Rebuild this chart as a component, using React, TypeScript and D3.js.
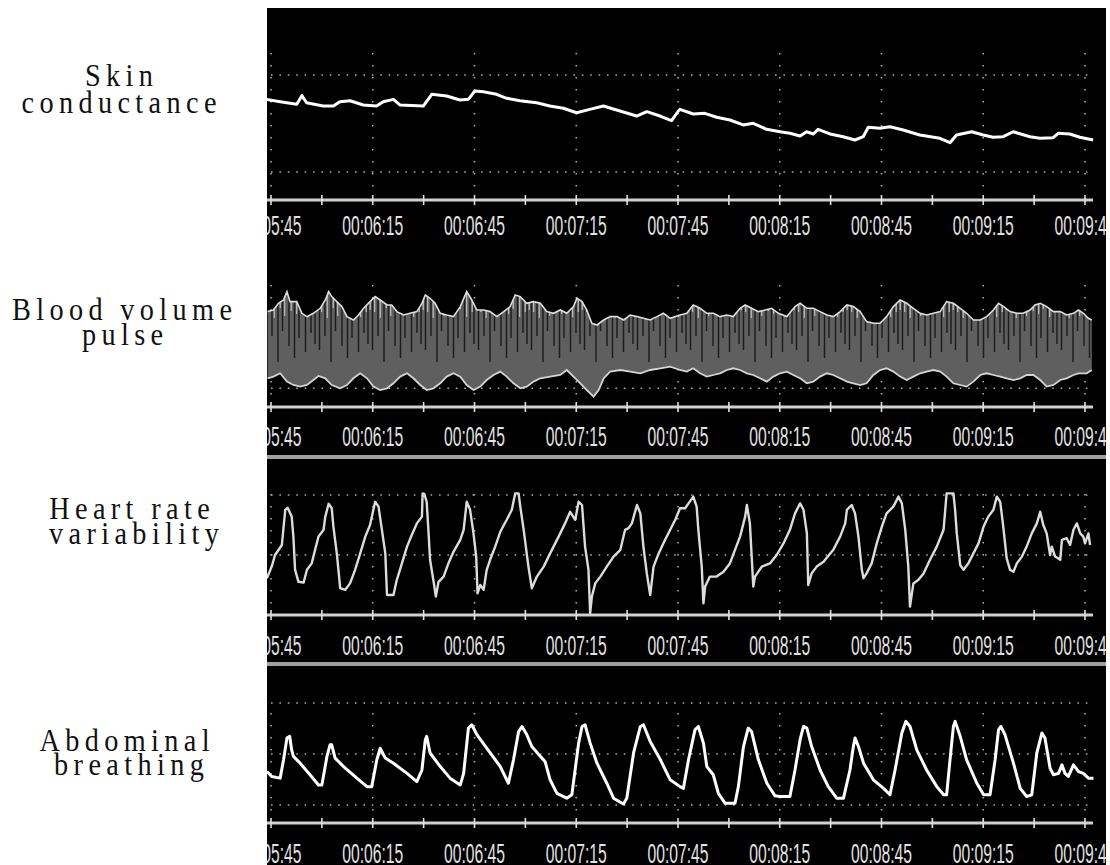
import React, { useRef, useEffect } from "react";
import * as d3 from "d3";

type Pt = [number, number];

// time axis (seconds since start of session)
const majorTicks = [345, 375, 405, 435, 465, 495, 525, 555, 585];
const minorTicks = [360, 390, 420, 450, 480, 510, 540, 570];
const tickLabels = ["00:05:45", "00:06:15", "00:06:45", "00:07:15", "00:07:45", "00:08:15", "00:08:45", "00:09:15", "00:09:45"];

const panelTitles = [
  ["Skin", "conductance"],
  ["Blood volume", "pulse"],
  ["Heart rate", "variability"],
  ["Abdominal", "breathing"],
];

// skin conductance [t, level]
const skinConductance: Pt[] = [
  [343.7, 7.49], [347.7, 7.25], [352.6, 6.98], [354.1, 7.87], [355.5, 7.14], [360.4, 6.8], [363.4, 6.8],
  [365.3, 7.25], [368.3, 7.35], [372.2, 6.91], [376.1, 6.8], [378.1, 7.25], [381.1, 7.49], [383.0, 6.91],
  [389.9, 6.8], [392.4, 8.01], [396.8, 7.84], [400.7, 7.42], [403.2, 7.49], [405.1, 8.35], [407.6, 8.28],
  [411.5, 8.01], [414.5, 7.6], [418.4, 7.35], [423.3, 7.14], [427.2, 6.8], [431.2, 6.57], [435.1, 6.11],
  [439.0, 6.46], [443.0, 6.8], [446.9, 6.39], [452.8, 5.77], [455.8, 6.22], [459.7, 5.77], [463.1, 5.29],
  [465.1, 6.29], [465.6, 6.46], [469.5, 5.98], [472.9, 6.05], [476.4, 5.64], [480.3, 5.36], [484.2, 4.85],
  [487.2, 5.02], [491.1, 4.4], [495.1, 4.15], [498.0, 3.99], [501.0, 3.71], [502.9, 4.15], [504.9, 3.92],
  [506.3, 4.4], [509.8, 3.92], [513.7, 3.64], [517.2, 3.3], [519.6, 3.64], [521.1, 4.61], [524.5, 4.51],
  [527.5, 4.67], [531.4, 4.33], [536.3, 3.81], [542.2, 3.47], [545.2, 3.02], [547.1, 3.81], [551.6, 4.15],
  [555.0, 3.81], [557.9, 3.58], [560.9, 3.64], [563.8, 4.15], [568.8, 3.64], [571.7, 3.47], [575.6, 3.54],
  [577.1, 3.99], [580.5, 3.92], [583.5, 3.58], [587.4, 3.3],
];

// blood volume pulse envelope [t, amplitude]
const bvpUpper: Pt[] = [
  [344.0, 91.7], [345.7, 93.3], [347.2, 100], [348.7, 103.3], [349.7, 111.7], [350.6, 101.7], [352.6, 101.7],
  [354.1, 90], [355.6, 86.7], [357.5, 90], [359.5, 95], [361.0, 103.3], [362.0, 111.7], [362.9, 106.7],
  [364.4, 101.7], [365.9, 96.7], [367.4, 86.7], [369.3, 83.3], [370.8, 88.3], [372.3, 95], [374.2, 101.7],
  [375.7, 106.7], [377.2, 103.3], [379.2, 98.3], [380.6, 98.3], [382.1, 91.7], [384.1, 88.3], [386.0, 90],
  [388.0, 91.7], [389.5, 100], [390.5, 108.3], [391.9, 105], [393.4, 100], [394.9, 90], [396.8, 88.3],
  [398.8, 86.7], [400.8, 96.7], [402.7, 111.7], [404.2, 103.3], [405.7, 93.3], [407.7, 93.3], [409.6, 91.7],
  [411.6, 86.7], [413.6, 91.7], [415.5, 96.7], [417.0, 108.3], [418.5, 106.7], [420.4, 100], [422.4, 101.7],
  [424.4, 100], [426.3, 91.7], [428.3, 90], [430.3, 93.3], [432.2, 90], [434.2, 96.7], [435.2, 105],
  [436.7, 101.7], [438.1, 93.3], [439.6, 80], [441.1, 78.3], [443.1, 83.3], [445.0, 86.7], [447.0, 86.7],
  [449.0, 83.3], [450.9, 88.3], [452.9, 86.7], [454.8, 85], [456.8, 83.3], [458.8, 86.7], [460.7, 90],
  [462.7, 85], [465.6, 88.3], [467.6, 90], [469.5, 98.3], [471.5, 95], [473.5, 90], [475.4, 90],
  [477.4, 86.7], [479.4, 88.3], [481.3, 86.7], [483.3, 95], [484.8, 98.3], [486.7, 95], [488.7, 91.7],
  [490.7, 93.3], [492.6, 95], [494.6, 90], [497.1, 86.7], [499.5, 96.7], [501.0, 100], [503.0, 95],
  [504.9, 95], [506.9, 91.7], [508.9, 88.3], [510.8, 86.7], [512.8, 91.7], [514.8, 98.3], [516.7, 96.7],
  [518.7, 91.7], [520.6, 81.7], [522.6, 80], [524.6, 80], [526.5, 86.7], [528.5, 96.7], [530.5, 103.3],
  [532.4, 100], [534.4, 95], [536.4, 90], [538.3, 88.3], [540.3, 90], [542.3, 91.7], [544.2, 101.7],
  [546.2, 100], [548.2, 95], [550.1, 90], [552.1, 83.3], [554.1, 83.3], [556.0, 86.7], [558.0, 93.3],
  [559.5, 100], [561.0, 96.7], [562.9, 91.7], [564.9, 90], [566.8, 90], [568.8, 93.3], [570.3, 98.3],
  [571.8, 100], [573.7, 96.7], [575.7, 91.7], [577.7, 91.7], [579.6, 88.3], [581.6, 90], [583.1, 93.3],
  [584.5, 90], [586.0, 85], [587.0, 83.3],
];
const bvpLower: Pt[] = [
  [344.0, 25], [345.7, 26.7], [347.7, 30], [349.7, 21.7], [351.6, 18.3], [353.6, 16.7], [355.6, 18.3],
  [357.5, 23.3], [359.0, 27.3], [361.0, 25], [362.9, 18.3], [365.4, 15], [367.4, 18.3], [369.3, 25],
  [371.3, 30], [373.3, 25], [375.2, 16.7], [377.2, 13.3], [379.2, 15], [381.1, 20], [383.1, 26.7],
  [385.1, 30], [387.0, 25], [389.0, 18.3], [390.9, 13.3], [392.9, 15], [394.9, 20], [396.8, 26.7],
  [398.8, 30], [400.8, 26.7], [402.7, 18.3], [404.7, 13.3], [406.7, 16.7], [408.6, 23.3], [410.6, 28.3],
  [412.6, 31.7], [414.5, 26.7], [416.5, 20], [418.5, 15], [420.4, 16.7], [422.4, 21.7], [424.4, 25],
  [427.3, 26.7], [430.3, 28.3], [432.2, 33.3], [434.2, 26.7], [436.2, 20], [438.1, 13.3], [440.1, 6.7],
  [441.6, 13.3], [443.1, 25], [445.0, 31.7], [448.0, 33.3], [450.9, 31.7], [453.9, 30], [456.8, 33.3],
  [459.8, 35], [462.7, 36.7], [465.6, 33.3], [467.6, 31.7], [469.5, 35], [471.5, 30], [473.5, 26.7],
  [475.4, 28.3], [477.4, 30], [479.4, 33.3], [481.3, 35], [483.3, 33.3], [485.3, 30], [487.2, 28.3],
  [489.2, 25], [491.2, 21.7], [493.1, 26.7], [495.1, 30], [497.1, 31.7], [499.0, 28.3], [501.0, 25],
  [503.0, 20], [504.9, 21.7], [506.9, 26.7], [508.9, 30], [510.8, 28.3], [512.8, 25], [514.8, 21.7],
  [516.7, 20], [518.7, 18.3], [520.6, 20], [522.6, 28.3], [524.6, 33.3], [526.5, 35], [528.5, 31.7],
  [530.5, 26.7], [532.4, 23.3], [534.4, 26.7], [536.4, 30], [538.3, 31.7], [540.3, 33.3], [542.3, 31.7],
  [544.2, 26.7], [546.2, 20], [548.2, 18.3], [550.1, 16.7], [552.1, 21.7], [554.1, 28.3], [556.0, 30],
  [558.0, 28.3], [560.0, 26.7], [561.9, 25], [563.9, 23.3], [565.9, 25], [567.8, 28.3], [569.8, 28.3],
  [571.8, 23.3], [573.7, 16.7], [575.7, 18.3], [577.7, 23.3], [579.6, 25], [581.6, 28.3], [583.1, 30],
  [585.5, 30], [587.0, 33.3],
];

// heart rate [t, bpm]
const heartRate: Pt[] = [
  [343.8, 69.2], [345.2, 72.1], [346.2, 75.0], [348.2, 77.5], [349.2, 86.3], [349.9, 86.8], [351.1, 84.6],
  [351.6, 79.6], [352.1, 71.3], [353.1, 68.3], [354.6, 68.1], [355.6, 71.3], [357.0, 72.9], [358.0, 76.3],
  [359.0, 79.6], [360.5, 81.3], [361.0, 84.6], [362.0, 87.8], [362.9, 86.7], [363.4, 82.1], [364.4, 75.4],
  [365.4, 66.7], [366.9, 66.3], [368.3, 67.9], [369.8, 71.3], [371.3, 75.4], [372.8, 79.6], [374.2, 82.5],
  [375.7, 88.3], [376.7, 87.1], [377.7, 81.3], [378.7, 75.4], [379.2, 65.0], [381.1, 65.0], [382.1, 68.8],
  [383.6, 72.9], [385.1, 77.1], [386.5, 80.0], [388.0, 82.9], [389.5, 84.6], [389.7, 90.4], [390.2, 90.3],
  [390.9, 88.3], [391.4, 81.3], [391.9, 73.8], [393.1, 67.5], [393.6, 64.6], [394.4, 68.3], [395.9, 69.6],
  [397.3, 72.9], [398.8, 75.8], [400.8, 78.8], [401.8, 81.3], [402.7, 88.3], [403.7, 86.3], [404.7, 80.4],
  [405.5, 74.6], [405.9, 65.4], [406.7, 67.5], [407.7, 66.3], [408.6, 71.3], [409.6, 73.8], [411.1, 77.1],
  [412.6, 80.8], [414.5, 83.8], [416.0, 86.3], [417.0, 90.4], [418.0, 90.4], [418.5, 87.1], [419.5, 81.3],
  [420.9, 72.1], [421.9, 66.7], [423.4, 69.6], [425.4, 72.1], [427.3, 75.4], [429.8, 79.6], [431.7, 82.9],
  [433.2, 85.8], [434.7, 83.8], [435.7, 88.3], [436.7, 87.5], [437.6, 77.1], [438.6, 71.3], [439.1, 60.4],
  [439.6, 64.6], [440.6, 67.9], [442.1, 69.6], [444.0, 72.1], [446.0, 74.6], [448.0, 76.3], [449.4, 81.3],
  [450.4, 81.7], [451.4, 82.9], [452.9, 87.5], [453.9, 85.4], [454.8, 77.1], [455.8, 70.4], [456.8, 65.0],
  [457.8, 72.1], [459.3, 75.4], [461.2, 78.8], [462.7, 81.3], [464.2, 83.8], [465.6, 86.7], [467.1, 86.7],
  [468.1, 87.9], [469.5, 89.6], [470.5, 87.1], [471.0, 81.3], [472.0, 72.1], [472.5, 62.9], [473.0, 67.1],
  [474.4, 69.6], [476.4, 69.6], [478.4, 70.8], [480.3, 72.9], [481.8, 76.3], [483.3, 79.6], [484.8, 84.6],
  [485.3, 87.5], [486.2, 82.9], [487.2, 67.1], [487.7, 69.6], [489.7, 72.1], [492.1, 72.9], [494.1, 75.0],
  [496.1, 77.9], [498.0, 81.3], [499.5, 85.4], [501.0, 87.9], [502.0, 86.3], [503.0, 80.4], [503.4, 67.5],
  [504.4, 70.4], [505.9, 72.1], [507.9, 73.3], [510.8, 76.3], [512.8, 79.6], [514.3, 82.9], [514.8, 86.3],
  [516.2, 87.5], [517.2, 85.4], [518.2, 79.6], [519.2, 71.3], [519.7, 69.2], [520.6, 70.4], [522.1, 72.9],
  [523.6, 77.9], [525.1, 82.1], [526.5, 85.4], [528.5, 87.1], [530.0, 89.6], [531.0, 87.9], [532.0, 81.3],
  [532.9, 72.1], [533.4, 62.1], [534.4, 67.9], [535.9, 68.8], [537.4, 70.4], [539.3, 73.8], [541.3, 77.1],
  [543.3, 81.3], [544.2, 90.4], [546.2, 90.4], [546.7, 86.3], [547.2, 80.4], [548.2, 72.5], [549.2, 71.3],
  [550.6, 72.9], [552.1, 75.4], [553.6, 77.9], [555.1, 82.1], [556.5, 84.6], [558.0, 86.3], [559.0, 89.6],
  [560.0, 88.3], [560.9, 82.1], [561.9, 74.2], [562.9, 71.3], [563.9, 70.8], [564.9, 72.9], [566.4, 74.6],
  [567.8, 77.1], [569.3, 80.4], [570.8, 82.9], [571.8, 85.8], [572.7, 82.5], [573.7, 80.4], [574.7, 75.0],
  [575.2, 77.1], [576.2, 74.6], [577.7, 73.8], [578.2, 78.8], [579.6, 79.2], [580.6, 77.5], [581.6, 81.3],
  [582.6, 82.9], [583.6, 80.4], [584.5, 79.6], [585.0, 77.9], [586.0, 80.4], [586.5, 77.5],
];

// abdominal breathing [t, expansion]
const breathing: Pt[] = [
  [343.8, 9.8], [345.2, 8.4], [347.7, 7.9], [348.7, 13.3], [349.7, 19.7], [350.5, 20.2], [351.1, 16.2],
  [351.6, 14.3], [353.6, 12.3], [356.5, 8.9], [359.0, 5.9], [360.0, 5.9], [361.5, 14.3], [362.4, 17.7],
  [362.9, 17.7], [363.9, 13.8], [366.4, 11.3], [370.3, 7.9], [373.3, 5.4], [374.7, 5.4], [376.2, 13.3],
  [377.2, 16.7], [378.7, 13.8], [381.1, 12.3], [385.1, 9.3], [388.0, 6.9], [389.5, 10.3], [390.5, 19.2],
  [390.9, 20.2], [391.9, 15.3], [394.9, 11.3], [397.8, 7.9], [400.8, 5.9], [401.8, 9.3], [403.2, 22.6],
  [404.2, 23.6], [405.7, 20.7], [408.6, 16.7], [412.6, 11.3], [415.0, 6.4], [416.5, 13.3], [418.0, 21.6],
  [419.0, 23.1], [420.4, 20.7], [421.9, 17.2], [424.4, 14.3], [425.8, 12.8], [427.3, 7.4], [429.3, 3.4],
  [432.2, 2.0], [433.7, 3.0], [435.7, 18.2], [436.7, 23.1], [437.6, 23.6], [439.1, 18.2], [441.1, 12.3],
  [444.0, 6.4], [446.0, 2.0], [448.9, 0.3], [449.9, 2.0], [451.9, 15.3], [453.9, 23.1], [454.8, 23.6],
  [456.8, 18.7], [459.8, 13.3], [462.7, 7.4], [465.6, 5.4], [466.6, 4.9], [468.1, 13.3], [470.0, 22.1],
  [471.0, 23.1], [472.5, 18.2], [473.5, 11.3], [475.4, 8.9], [476.9, 3.4], [478.9, 0.5], [481.8, 0.5],
  [482.8, 5.4], [484.3, 17.2], [485.7, 22.6], [486.7, 21.6], [488.7, 13.3], [491.2, 6.4], [493.6, 2.7],
  [495.1, 2.5], [498.0, 2.5], [499.5, 10.3], [501.0, 19.2], [502.0, 23.1], [503.0, 22.6], [504.4, 17.2],
  [506.9, 10.3], [509.3, 5.4], [511.8, 2.0], [513.8, 2.0], [515.7, 10.3], [516.7, 17.2], [517.2, 19.7],
  [518.2, 17.2], [519.7, 12.3], [522.6, 7.4], [525.6, 4.9], [527.5, 3.0], [529.0, 10.3], [531.0, 21.2],
  [532.2, 24.6], [533.4, 23.1], [535.4, 16.2], [538.3, 10.3], [541.3, 5.4], [543.3, 3.0], [544.2, 3.0],
  [545.2, 13.3], [546.2, 23.1], [546.7, 24.6], [548.2, 20.2], [550.1, 13.3], [553.1, 6.4], [555.1, 3.0],
  [557.0, 3.0], [558.5, 13.3], [559.5, 22.1], [560.2, 23.1], [561.4, 20.7], [563.9, 12.3], [565.9, 4.9],
  [567.8, 2.5], [569.3, 3.0], [570.8, 15.3], [572.3, 21.2], [573.2, 19.7], [574.7, 10.8], [575.7, 8.9],
  [577.2, 9.3], [578.2, 11.8], [579.1, 9.3], [580.1, 8.4], [581.6, 11.8], [583.1, 9.8], [584.5, 9.3],
  [586.0, 7.9], [587.5, 7.9],
];

interface Panel {
  domain: [number, number];
  range: [number, number];
  grid: number[];
  gridTop: number;
  axisY: number;
  labelY: number;
  separator?: number;
  title: { cx: number; y: number }[];
}

const panels: Panel[] = [
  { domain: [0, 10], range: [172, 75], grid: [0, 10], gridTop: 53, axisY: 200, labelY: 235, title: [{ cx: 119, y: 86 }, { cx: 119, y: 113 }] },
  { domain: [0, 100], range: [403.3, 303.3], grid: [15], gridTop: 285, axisY: 407, labelY: 446, separator: 457, title: [{ cx: 122, y: 320 }, { cx: 122.5, y: 345 }] },
  { domain: [60, 90], range: [615, 495], grid: [90, 75], gridTop: 494, axisY: 615, labelY: 655, separator: 664, title: [{ cx: 129.5, y: 519 }, { cx: 134, y: 544 }] },
  { domain: [0, 30], range: [805, 703], grid: [0, 15, 30], gridTop: 713, axisY: 823, labelY: 863, title: [{ cx: 124.5, y: 751 }, { cx: 129, y: 775 }] },
];

export default function App() {
  const ref = useRef<SVGSVGElement>(null);

  useEffect(() => {
    if (!ref.current) return;
    const svg = d3.select(ref.current);
    svg.selectAll("*").remove();

    const W = 1110, H = 865;
    const left = 267, top = 8, right = 1106;
    const x = d3.scaleLinear().domain([345, 585]).range([271, 1085]);

    const defs = svg.append("defs");
    defs.append("clipPath").attr("id", "screen")
      .append("rect").attr("x", left).attr("y", top).attr("width", right - left).attr("height", H - top);
    defs.append("filter").attr("id", "soft")
      .append("feGaussianBlur").attr("stdDeviation", 0.45);

    svg.append("rect").attr("width", W).attr("height", H).attr("fill", "#fff");

    // panel titles
    panels.forEach((p, i) => {
      panelTitles[i].forEach((txt, j) => {
        svg.append("text")
          .attr("transform", `translate(${p.title[j].cx},${p.title[j].y}) scale(0.883,1)`)
          .attr("dx", 3)
          .attr("text-anchor", "middle")
          .attr("font-family", "'Liberation Serif', 'Times New Roman', serif")
          .attr("font-size", 32)
          .attr("letter-spacing", 6.1)
          .attr("fill", "#111")
          .text(txt);
      });
    });

    const screen = svg.append("g").attr("clip-path", "url(#screen)");
    screen.append("rect").attr("x", left).attr("y", top).attr("width", right - left).attr("height", H - top).attr("fill", "#000");

    const ys = panels.map(p => d3.scaleLinear().domain(p.domain).range(p.range));

    panels.forEach((p, i) => {
      const g = screen.append("g");
      // vertical dotted grid
      majorTicks.forEach(t => {
        g.append("line")
          .attr("x1", x(t)).attr("x2", x(t))
          .attr("y1", p.gridTop).attr("y2", p.axisY - 3)
          .attr("stroke", "#a8a8a8").attr("stroke-width", 1.6)
          .attr("stroke-dasharray", "1.6 10.4");
      });
      // horizontal dotted grid
      p.grid.forEach(v => {
        g.append("line")
          .attr("x1", x(345)).attr("x2", x(585) + 3)
          .attr("y1", ys[i](v)).attr("y2", ys[i](v))
          .attr("stroke", "#a8a8a8").attr("stroke-width", 1.6)
          .attr("stroke-dasharray", "1.6 6.8");
      });
    });

    const line = (y: d3.ScaleLinear<number, number>) =>
      d3.line<Pt>().x(d => x(d[0])).y(d => y(d[1]));

    // skin conductance
    screen.append("path").datum(skinConductance)
      .attr("d", line(ys[0]))
      .attr("fill", "none").attr("stroke", "#fff").attr("stroke-width", 3)
      .attr("stroke-linejoin", "round");

    // blood volume pulse band
    const band: Pt[] = [...bvpUpper, ...bvpLower.slice().reverse()];
    const bandPath = line(ys[1])(band) + "Z";
    defs.append("clipPath").attr("id", "bvpBand").append("path").attr("d", bandPath);

    // beat texture: dark notch strokes with a bright edge, irregular spacing
    const pat = defs.append("pattern").attr("id", "notches")
      .attr("patternUnits", "userSpaceOnUse")
      .attr("x", 0).attr("y", 0).attr("width", 53).attr("height", H);
    [[1.5, 350, 312], [7, 336, 318], [13, 362, 308], [17.5, 331, 316], [24, 346, 311],
     [29.5, 358, 314], [34, 338, 309], [40.5, 352, 317], [46, 333, 312], [50, 344, 310]].forEach(([px, bottom, hi]) => {
      pat.append("line").attr("x1", px + 2.2).attr("x2", px + 2.2).attr("y1", 280).attr("y2", hi)
        .attr("stroke", "#c8c8c8").attr("stroke-width", 1.1);
      pat.append("line").attr("x1", px).attr("x2", px).attr("y1", 280).attr("y2", bottom)
        .attr("stroke", "#1e1e1e").attr("stroke-width", 1.5);
    });

    const bvp = screen.append("g").attr("filter", "url(#soft)");
    bvp.append("path").attr("d", bandPath).attr("fill", "#5e5e5e");
    bvp.append("rect").attr("clip-path", "url(#bvpBand)")
      .attr("x", left).attr("y", 270).attr("width", right - left).attr("height", 140)
      .attr("fill", "url(#notches)");
    bvp.append("path").datum(bvpUpper).attr("d", line(ys[1]))
      .attr("fill", "none").attr("stroke", "#dedede").attr("stroke-width", 1.6);
    bvp.append("path").datum(bvpLower).attr("d", line(ys[1]))
      .attr("fill", "none").attr("stroke", "#d4d4d4").attr("stroke-width", 1.8);

    // heart rate variability
    screen.append("path").datum(heartRate)
      .attr("d", line(ys[2]))
      .attr("fill", "none").attr("stroke", "#dcdcdc").attr("stroke-width", 2.4)
      .attr("stroke-linejoin", "round");

    // abdominal breathing
    screen.append("path").datum(breathing)
      .attr("d", line(ys[3]))
      .attr("fill", "none").attr("stroke", "#fff").attr("stroke-width", 3)
      .attr("stroke-linejoin", "round");

    // time axes
    panels.forEach(p => {
      const g = screen.append("g");
      g.append("line")
        .attr("x1", left).attr("x2", 1093)
        .attr("y1", p.axisY).attr("y2", p.axisY)
        .attr("stroke", "#d0d0d0").attr("stroke-width", 3);
      [...majorTicks, ...minorTicks].forEach(t => {
        g.append("line")
          .attr("x1", x(t)).attr("x2", x(t))
          .attr("y1", p.axisY - 5).attr("y2", p.axisY + 5)
          .attr("stroke", "#e0e0e0").attr("stroke-width", 1.6);
      });
      majorTicks.forEach((t, k) => {
        g.append("text")
          .attr("x", x(t)).attr("y", p.labelY)
          .attr("text-anchor", "middle")
          .attr("font-family", "'Liberation Sans Narrow', 'Liberation Sans', Arial, sans-serif")
          .attr("font-size", 27)
          .attr("textLength", 61)
          .attr("lengthAdjust", "spacingAndGlyphs")
          .attr("fill", "#e2e2e2")
          .text(tickLabels[k]);
      });
      if (p.separator !== undefined) {
        g.append("line")
          .attr("x1", left).attr("x2", right)
          .attr("y1", p.separator).attr("y2", p.separator)
          .attr("stroke", "#a0a0a0").attr("stroke-width", 4);
      }
    });
  }, []);

  return (
    <div style={{ position: "absolute", left: 0, top: 0 }}>
      <svg ref={ref} width={1110} height={865} style={{ display: "block" }} />
    </div>
  );
}
